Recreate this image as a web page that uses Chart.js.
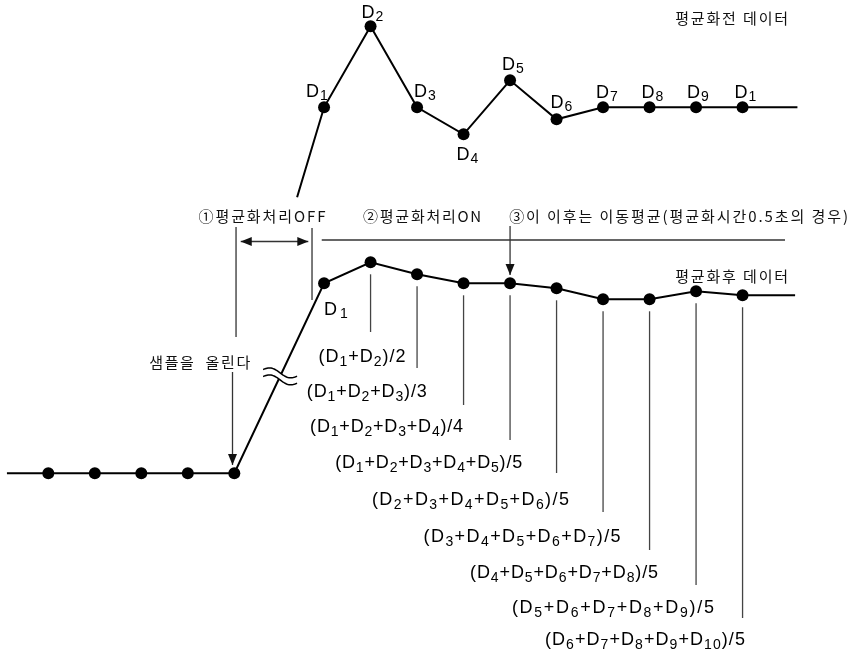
<!DOCTYPE html>
<html>
<head>
<meta charset="utf-8">
<script src="https://cdn.jsdelivr.net/npm/chart.js@4.4.0/dist/chart.umd.min.js"></script>
<style>
html, body { margin: 0; padding: 0; background: #fff; }
#wrap { width: 853px; height: 658px; }
</style>
</head>
<body>
<div id="wrap"><canvas id="diagram"></canvas></div>
<script>
// samples (x = sample number, y = signal level)
const sampleNames = ['D1', 'D2', 'D3', 'D4', 'D5', 'D6', 'D7', 'D8', 'D9', 'D10'];
const sampleLabels = ['1', '2', '3', '4', '5', '6', '7', '8', '9', '1']; // as printed above the points
const sampleIndex = [6.93, 7.93, 8.93, 9.93, 10.93, 11.93, 12.93, 13.93, 14.93, 15.93];
const rawValues = [36.6, 44.7, 36.6, 33.9, 39.3, 35.4, 36.6, 36.6, 36.6, 36.6];
const avgValues = [19.0, 21.1, 19.9, 19.0, 19.0, 18.5, 17.4, 17.4, 18.2, 17.8];
const baseIndex = [1, 2, 3, 4, 5];
const baseValues = [0, 0, 0, 0, 0];
const rawLead = { x: 6.35, y: 27.6 };
const rawTail = { x: 17.11, y: 36.6 };
const avgLead = { x: 0.11, y: 0 };
const avgTail = { x: 17.06, y: 17.8 };
const windowSize = 5;

const KR = '"Noto Sans CJK KR", "Noto Sans", sans-serif';
const LAT = '"Liberation Sans", Arial, sans-serif';

// korean notes: left x (sample units), centre y (level units), width px
const notes = [
    { text: '평균화전 데이터', t: 14.48, v: 45.53, w: 113 },
    { text: '평균화후 데이터', t: 14.48, v: 19.66, w: 113 },
    { text: '①평균화처리OFF', t: 4.23, v: 25.66, w: 127 },
    { text: '②평균화처리ON', t: 7.77, v: 25.66, w: 118 },
    { text: '③이 이후는 이동평균(평균화시간0.5초의 경우)', t: 10.91, v: 25.7, w: 339 },
    { text: '샘플을  올린다', t: 3.17, v: 11.13, w: 101 }
];

// formula labels under the drop lines (D2..D10)
const formulaPos = [
    { t: 6.81, v: 11.63, w: 87 },
    { t: 6.56, v: 8.16, w: 120 },
    { t: 6.63, v: 4.66, w: 153 },
    { t: 7.17, v: 1.0, w: 187 },
    { t: 7.96, v: -2.67, w: 197 },
    { t: 9.07, v: -6.34, w: 197 },
    { t: 10.07, v: -10.0, w: 188 },
    { t: 10.97, v: -13.5, w: 202 },
    { t: 11.68, v: -16.67, w: 200 }
];
const dropEnds = [14.13, 10.53, 6.83, 3.33, 0.03, -3.87, -7.67, -11.17, -14.47];

// label offsets for the raw points [dx, dy] px
const labelOffsets = [[-18, -10], [-9, -8], [-3, -10], [-7, 26], [-8, -10], [-6, -11], [-7, -9], [-8, -9], [-9, -9], [-8, -9]];

const rawData = [rawLead].concat(sampleIndex.map((x, i) => ({ x: x, y: rawValues[i] })), [rawTail]);
const avgData = [avgLead].concat(
    baseIndex.map((x, i) => ({ x: x, y: baseValues[i] })),
    sampleIndex.map((x, i) => ({ x: x, y: avgValues[i] })),
    [avgTail]
);
const radii = n => [0].concat(Array(n).fill(6), [0]);

function formulaFor(i) {
    const from = Math.max(0, i - windowSize + 1);
    const names = sampleNames.slice(from, i + 1);
    return '(' + names.map(n => 'D_' + n.slice(1)).join('+') + ')/' + names.length;
}

function drawFitted(ctx, text, x, cy, w) {
    ctx.letterSpacing = '0px';
    const nat = ctx.measureText(text).width;
    const n = [...text].length;
    ctx.letterSpacing = ((w - nat) / (n - 1)).toFixed(2) + 'px';
    ctx.fillText(text, x, cy);
    ctx.letterSpacing = '0px';
}

function drawFormula(ctx, str, x, cy, w) {
    const chars = [];
    str.split(/(_\d+)/).forEach(part => {
        if (!part) return;
        const sub = part[0] === '_';
        for (const c of (sub ? part.slice(1) : part)) chars.push({ c: c, sub: sub });
    });
    let nat = 0;
    chars.forEach(ch => {
        ctx.font = ch.sub ? '14px ' + LAT : '18px ' + LAT;
        ch.w = ctx.measureText(ch.c).width;
        nat += ch.w;
    });
    const gap = (w - nat) / (chars.length - 1);
    let cx = x;
    chars.forEach(ch => {
        ctx.font = ch.sub ? '14px ' + LAT : '18px ' + LAT;
        ctx.fillText(ch.c, cx, cy + (ch.sub ? 5 : 0));
        cx += ch.w + gap;
    });
}

function arrowHead(ctx, x, y, dx, dy) {
    const len = 11, half = 4.5;
    ctx.beginPath();
    ctx.moveTo(x, y);
    ctx.lineTo(x - dx * len - dy * half, y - dy * len + dx * half);
    ctx.lineTo(x - dx * len + dy * half, y - dy * len - dx * half);
    ctx.closePath();
    ctx.fill();
}

function line(ctx, x1, y1, x2, y2) {
    ctx.beginPath();
    ctx.moveTo(x1, y1);
    ctx.lineTo(x2, y2);
    ctx.stroke();
}

const annotations = {
    id: 'annotations',
    afterDraw(chart) {
        const ctx = chart.ctx;
        const X = v => chart.scales.x.getPixelForValue(v);
        const Y = v => chart.scales.y.getPixelForValue(v);
        ctx.save();

        // break mark on the rising line
        const ax = X(baseIndex[4]), ay = Y(baseValues[4]);
        const bx = X(sampleIndex[0]), by = Y(avgValues[0]);
        const cx = ax + (bx - ax) * 0.51, cy = ay + (by - ay) * 0.51;
        const wave = off => {
            const pts = [];
            for (let s = -17; s <= 17; s++) pts.push([cx + s, cy + off + 0.2 * s + 3 * Math.sin(Math.PI * s / 17)]);
            return pts;
        };
        const up = wave(-3.5), lo = wave(3.5);
        ctx.fillStyle = '#fff';
        ctx.beginPath();
        up.forEach((p, i) => i ? ctx.lineTo(p[0], p[1]) : ctx.moveTo(p[0], p[1]));
        lo.slice().reverse().forEach(p => ctx.lineTo(p[0], p[1]));
        ctx.closePath();
        ctx.fill();
        ctx.strokeStyle = '#000';
        ctx.lineWidth = 1.5;
        [up, lo].forEach(w => {
            ctx.beginPath();
            w.forEach((p, i) => i ? ctx.lineTo(p[0], p[1]) : ctx.moveTo(p[0], p[1]));
            ctx.stroke();
        });

        // guide lines and arrows
        ctx.strokeStyle = '#333';
        ctx.fillStyle = '#111';
        ctx.lineWidth = 1.3;
        line(ctx, X(5.138), Y(23.18), X(6.591), Y(23.18));
        arrowHead(ctx, X(5.138), Y(23.18), -1, 0);
        arrowHead(ctx, X(6.591), Y(23.18), 1, 0);
        line(ctx, X(6.671), Y(24.53), X(6.671), Y(17.33));
        line(ctx, X(6.88), Y(23.33), X(16.843), Y(23.33));
        line(ctx, X(5.037), Y(24.63), X(5.037), Y(13.63));
        line(ctx, X(4.961), Y(10.13), X(4.961), Y(0.83));
        arrowHead(ctx, X(4.961), Y(0.83), 0, 1);
        line(ctx, X(sampleIndex[4]), Y(24.73), X(sampleIndex[4]), Y(19.83));
        arrowHead(ctx, X(sampleIndex[4]), Y(19.83), 0, 1);

        // drop lines from averaged points
        ctx.strokeStyle = '#444';
        dropEnds.forEach((end, k) => {
            const i = k + 1;
            const x = X(sampleIndex[i]);
            line(ctx, x, Y(avgValues[i]) + 12, x, Y(end));
        });

        // korean notes
        ctx.fillStyle = '#111';
        ctx.textBaseline = 'middle';
        ctx.textAlign = 'left';
        ctx.font = '15px ' + KR;
        notes.forEach(n => drawFitted(ctx, n.text, X(n.t), Y(n.v), n.w));

        // formulas
        ctx.fillStyle = '#000';
        formulaPos.forEach((f, k) => drawFormula(ctx, formulaFor(k + 1), X(f.t), Y(f.v), f.w));

        // point labels
        ctx.textBaseline = 'alphabetic';
        sampleIndex.forEach((t, i) => {
            const x = X(t) + labelOffsets[i][0];
            const y = Y(rawValues[i]) + labelOffsets[i][1];
            ctx.font = '18px ' + LAT;
            ctx.fillText('D', x, y);
            const dw = ctx.measureText('D').width;
            ctx.font = '14px ' + LAT;
            ctx.fillText(sampleLabels[i], x + dw + 1, y + 3);
        });
        const lx = X(sampleIndex[0]), ly = Y(avgValues[0]) + 32;
        ctx.font = '18px ' + LAT;
        ctx.fillText('D', lx, ly);
        ctx.font = '14px ' + LAT;
        ctx.fillText('1', lx + 16, ly + 3);

        ctx.restore();
    }
};

new Chart(document.getElementById('diagram'), {
    type: 'scatter',
    data: {
        datasets: [{
            label: '평균화전 데이터',
            data: rawData,
            showLine: true,
            borderColor: '#000',
            borderWidth: 2,
            pointBackgroundColor: '#000',
            pointBorderWidth: 0,
            pointRadius: radii(sampleIndex.length),
            clip: false
        }, {
            label: '평균화후 데이터',
            data: avgData,
            showLine: true,
            borderColor: '#000',
            borderWidth: 2,
            pointBackgroundColor: '#000',
            pointBorderWidth: 0,
            pointRadius: radii(baseIndex.length + sampleIndex.length),
            clip: false
        }]
    },
    options: {
        responsive: true,
        maintainAspectRatio: false,
        animation: false,
        events: [],
        layout: { padding: 0 },
        plugins: { legend: { display: false }, tooltip: { enabled: false } },
        scales: {
            x: { type: 'linear', min: -0.039, max: 18.305, display: false },
            y: { type: 'linear', min: -18.47, max: 47.33, display: false }
        }
    },
    plugins: [annotations]
});
</script>
</body>
</html>
